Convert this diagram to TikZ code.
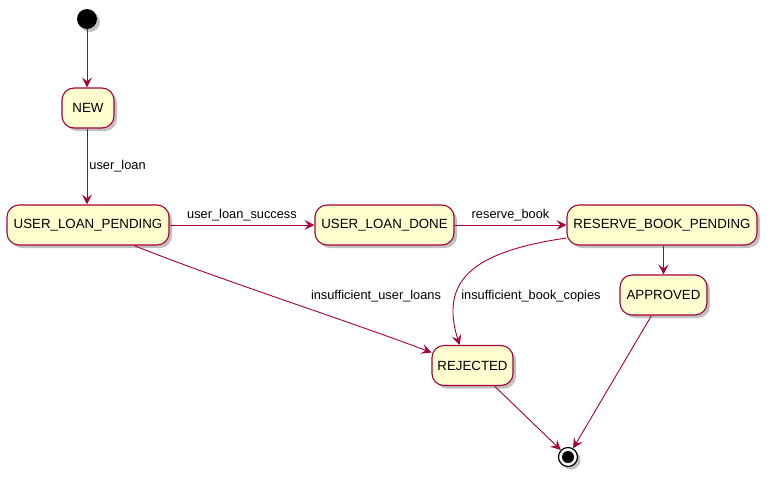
\documentclass[tikz,border=0pt]{standalone}
\usepackage{fontspec}
\setmainfont{Liberation Sans}
\usetikzlibrary{arrows.meta,shadows,positioning}
\definecolor{pborder}{HTML}{A80036}
\definecolor{pfill}{HTML}{FEFECE}
\tikzset{
  pshadow/.style={drop shadow={shadow xshift=3pt,shadow yshift=-3pt,opacity=0.35,fill=black!70}},
  state/.style={draw=pborder,fill=pfill,line width=1.1pt,rounded corners=12pt,
    minimum height=40pt,inner xsep=4pt,font=\fontsize{13.3}{15}\selectfont,pshadow},
  conn/.style={draw=pborder,line width=0.9pt,-{Stealth[length=10pt,width=10pt,inset=4pt]}},
  lbl/.style={font=\fontsize{12.8}{15}\selectfont,text=black,inner sep=1pt},
}
\begin{document}
\begin{tikzpicture}[x=1pt,y=-1pt]
\useasboundingbox (0,0) rectangle (771,477);
\node[circle,fill=black,minimum size=20pt,inner sep=0pt,pshadow] (start) at (87,19) {};
\node[state,minimum width=52pt] (new) at (88,108) {NEW};
\node[state,minimum width=162pt] (ulp) at (88,225) {USER\_LOAN\_PENDING};
\node[state,minimum width=139pt] (uld) at (384.5,225) {USER\_LOAN\_DONE};
\node[state,minimum width=190pt] (rbp) at (662,225) {RESERVE\_BOOK\_PENDING};
\node[state,minimum width=87pt] (app) at (663.5,295) {APPROVED};
\node[state,minimum width=81pt] (rej) at (472.5,365.5) {REJECTED};
\node[circle,draw=black,fill=white,line width=1.2pt,minimum size=19pt,inner sep=0pt,pshadow] (end) at (568,457) {};
\node[circle,fill=black,minimum size=12pt,inner sep=0pt] (endin) at (end) {};

\draw[conn] (start) -- (new.north -| start);
\draw[conn] (new.south -| start) -- node[lbl,right,xshift=1pt]{user\_loan} (ulp.north -| start);
\draw[conn] (ulp) -- node[lbl,above,yshift=3pt]{user\_loan\_success} (uld);
\draw[conn] (uld) -- node[lbl,above,yshift=3pt]{reserve\_book} (rbp);
\draw[conn] (rbp.south -| app) -- (app.north);
\draw[conn] ([xshift=46pt]ulp.south) .. controls (220,280) and (340,318) .. ([yshift=13pt]rej.west);
\node[lbl] (l1) at (376,296) {insufficient\_user\_loans};
\draw[conn] ([yshift=-13pt]rbp.west) .. controls (470,252) and (440,282) .. ([xshift=-13pt]rej.north);
\node[lbl] (l2) at (531,296) {insufficient\_book\_copies};
\draw[conn] ([xshift=22pt]rej.south) -- (end);
\draw[conn] ([xshift=-12pt]app.south) -- (end);
\end{tikzpicture}
\end{document}
